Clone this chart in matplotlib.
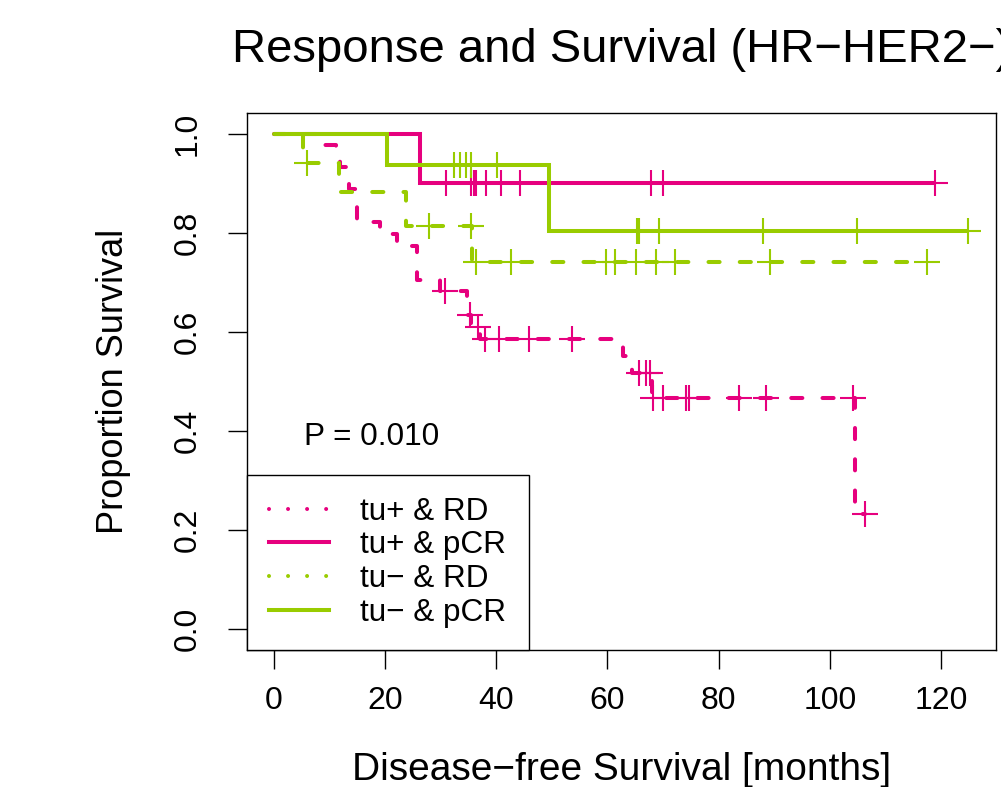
import matplotlib
matplotlib.use('Agg')
import matplotlib.pyplot as plt
from matplotlib.lines import Line2D
import numpy as np

plt.rcParams['font.family'] = ['Liberation Sans', 'DejaVu Sans']
plt.rcParams['lines.scale_dashes'] = False

# Kaplan-Meier curves: event times (months) and survival after each event,
# plus censoring times
pos_rd_event_t = [8.8, 11.2, 11.9, 13.5, 14.9, 19.0, 22.2, 25.7, 29.8, 34.7, 35.5, 37.0, 62.7, 64.4, 68.0, 104.5]
pos_rd_surv = [0.978, 0.956, 0.933, 0.889, 0.822, 0.797, 0.774, 0.705, 0.682, 0.635, 0.611, 0.585, 0.551, 0.518, 0.466, 0.233]
pos_rd_cens = [30.8, 35.3, 36.7, 38.0, 40.4, 45.8, 53.7, 65.7, 67.0, 67.6, 68.2, 70.0, 74.2, 74.7,
               83.7, 88.6, 104.2, 106.4]

pos_pcr_event_t = [26.2]
pos_pcr_surv = [0.900]
pos_pcr_cens = [30.9, 35.4, 35.9, 36.3, 38.1, 40.8, 44.3, 67.8, 70.0, 118.9]

neg_rd_event_t = [5.3, 11.7, 23.7, 35.7]
neg_rd_surv = [0.941, 0.882, 0.815, 0.742]
neg_rd_cens = [5.9, 27.8, 35.5, 36.3, 42.6, 59.7, 61.4, 65.1, 68.7, 72.2, 89.2, 117.4]

neg_pcr_event_t = [20.3, 49.5]
neg_pcr_surv = [0.9375, 0.804]
neg_pcr_cens = [32.4, 33.5, 34.5, 35.4, 40.1, 65.3, 65.7, 69.3, 88.0, 104.9, 124.9]

labels = ['tu+ & RD', 'tu+ & pCR', 'tu\u2212 & RD', 'tu\u2212 & pCR']
p_text = 'P = 0.010'

magenta = '#E6007E'
green = '#99CC00'
lw = 2.9
dashed = (0, (8.0, 14.5))
dotted = (0, (0.01, 13.7))

fig = plt.figure(figsize=(10.01, 7.87), dpi=100)
ax = fig.add_axes([247 / 1001, 1 - 650 / 787, (996 - 247) / 1001, (650 - 113) / 787])


def km(ax, ev_t, surv, cens, color, ls):
    t = np.concatenate([[0.0], ev_t])
    s = np.concatenate([[1.0], surv])
    t_end = max(max(cens), t[-1])
    tt = np.append(t, t_end)
    ss = np.append(s, s[-1])
    ax.step(tt, ss, where='post', color=color, lw=lw, linestyle=ls,
            dash_capstyle='round', solid_capstyle='butt', solid_joinstyle='miter')
    # censor marks sit on the step function
    idx = np.searchsorted(t, cens, side='right') - 1
    ax.plot(cens, s[idx], linestyle='none', marker='+', markersize=19,
            markeredgewidth=1.5, color=color)


km(ax, pos_rd_event_t, pos_rd_surv, pos_rd_cens, magenta, dashed)
km(ax, pos_pcr_event_t, pos_pcr_surv, pos_pcr_cens, magenta, '-')
km(ax, neg_rd_event_t, neg_rd_surv, neg_rd_cens, green, dashed)
km(ax, neg_pcr_event_t, neg_pcr_surv, neg_pcr_cens, green, '-')

ax.set_xlim(-4.86, 129.9)
ax.set_ylim(-0.0423, 1.0423)
ax.set_xticks([0, 20, 40, 60, 80, 100, 120])
ax.set_yticks([0.0, 0.2, 0.4, 0.6, 0.8, 1.0])
ax.set_yticklabels(['0.0', '0.2', '0.4', '0.6', '0.8', '1.0'], rotation=90, va='center')
ax.tick_params(axis='both', direction='out', length=13.7, width=1.0, labelsize=23)
ax.tick_params(axis='x', pad=12.2)
ax.tick_params(axis='y', pad=17.9)
for sp in ax.spines.values():
    sp.set_linewidth(1.0)

ax.text(17.6, 0.372, p_text, ha='center', va='baseline', fontsize=22.7)

handles = [Line2D([], [], color=magenta, lw=lw, linestyle=dotted, dash_capstyle='round'),
           Line2D([], [], color=magenta, lw=lw, linestyle='-'),
           Line2D([], [], color=green, lw=lw, linestyle=dotted, dash_capstyle='round'),
           Line2D([], [], color=green, lw=lw, linestyle='-')]
leg = ax.legend(handles, labels, loc='lower left', bbox_to_anchor=(0, 0), borderaxespad=0,
                fancybox=False, edgecolor='black', framealpha=1, fontsize=22.7,
                handlelength=1.9, handletextpad=1.0, borderpad=0.7, labelspacing=0.12)
leg.get_frame().set_linewidth(1.0)

# R centres the title over the plot region, so it runs past the right edge as in the original
fig.text((247 + 996) / 2 / 1001, 1 - 62 / 787, 'Response and Survival (HR\u2212HER2\u2212)',
         ha='center', va='baseline', fontsize=34)
fig.text((247 + 996) / 2 / 1001, 1 - 780 / 787, 'Disease\u2212free Survival [months]',
         ha='center', va='baseline', fontsize=28)
fig.text(123 / 1001, 1 - 381.5 / 787, 'Proportion Survival', rotation=90,
         rotation_mode='anchor', ha='center', va='baseline', fontsize=26)

fig.savefig('out.png', dpi=100, facecolor='white')
